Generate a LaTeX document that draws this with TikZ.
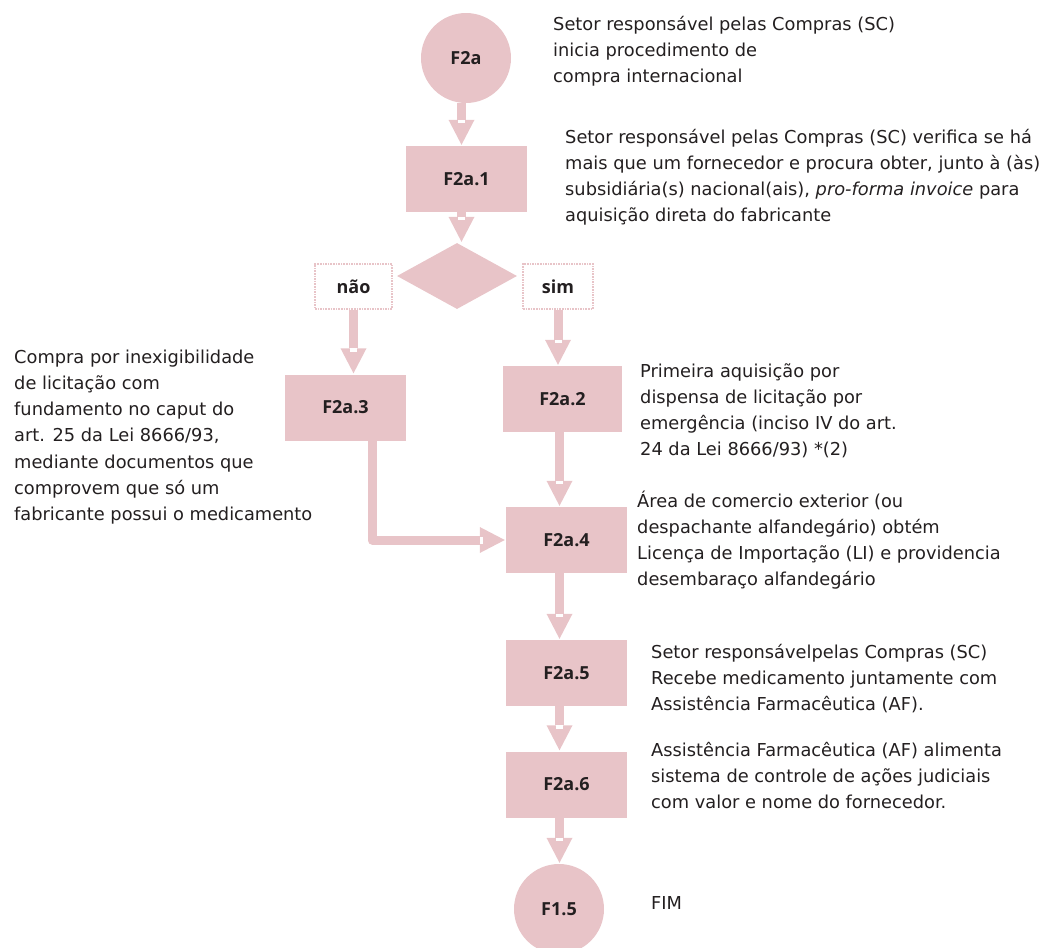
\documentclass[tikz,border=0pt]{standalone}
\usepackage{fontspec}
\setmainfont{DejaVu Sans}
\newfontfamily\labelfont{Open Sans}
\usetikzlibrary{arrows.meta,calc,positioning,shapes.geometric}

\definecolor{rose}{RGB}{232,196,200}
\definecolor{ink}{RGB}{35,31,32}
\newcommand\notesize{\fontsize{17.8}{26.3}\selectfont}
\newcommand\labelsize{\labelfont\fontsize{18}{20}\selectfont\bfseries}

\tikzstyle{stage}=[
  rectangle,
  fill=rose,
  inner sep=0pt,
  minimum width=121pt,
  minimum height=66pt,
  font=\labelsize,
  text=ink,
]
\tikzstyle{terminal}=[
  circle,
  fill=rose,
  inner sep=0pt,
  minimum size=90pt,
  font=\labelsize,
  text=ink,
]
\tikzstyle{decision}=[
  diamond,
  fill=rose,
  inner sep=0pt,
  minimum width=120pt,
  minimum height=66pt,
]
\tikzstyle{answer}=[
  rectangle,
  draw=rose,
  line width=2pt,
  dash pattern=on 1.6pt off 1pt,
  fill=white,
  minimum height=45pt,
  font=\labelsize,
  text=ink,
]
% notes are placed by the baseline of their last line
\tikzstyle{note}=[
  anchor=base west,
  align=left,
  inner sep=0pt,
  font=\notesize,
  text=ink,
]
\tikzstyle{flow}=[
  draw=rose,
  line width=9pt,
  -{Triangle[width=26pt,length=25pt,line width=0pt]},
  shorten >=1pt,
]
% white gap where the shaft meets the head
\newcommand\notch[1]{\fill[white] ($(#1)+(-3.5,-26)$) rectangle ($(#1)+(3.5,-22.5)$);}

\begin{document}
\begin{tikzpicture}[x=1pt,y=-1pt]
  \useasboundingbox (0,0) rectangle (1050,948);
  %% columns of the connectors
  \coordinate (colT) at (461.5,0);
  \coordinate (colA) at (372,0);
  \coordinate (colB) at (559.5,0);
  %% steps
  \node (F2a) [terminal] at (466,58) {F2a};
  \node (F2a1) [stage] at (466.5,179) {F2a.1};
  \node (dec) [decision] at (457,276) {};
  \node (nao) [answer, minimum width=77pt] at (353.5,286.5) {não};
  \node (sim) [answer, minimum width=70pt] at (558,286.5) {sim};
  \node (F2a3) [stage] at (345.5,407.5) {F2a.3};
  \node (F2a2) [stage, minimum width=119pt] at (562.5,399) {F2a.2};
  \node (F2a4) [stage] at (566.5,540) {F2a.4};
  \node (F2a5) [stage] at (566.5,673) {F2a.5};
  \node (F2a6) [stage] at (566.5,784.5) {F2a.6};
  \node (F15) [terminal] at (559,909) {F1.5};
  %% texts
  \node (tF2a) [note] at (553,82.6) {Setor responsável pelas Compras (SC)\\
    inicia procedimento de\\compra internacional};
  \node (tF2a1) [note] at (565,221.9) {Setor responsável pelas Compras (SC) verifica se há\\
    mais que um fornecedor e procura obter, junto à (às)\\
    subsidiária(s) nacional(ais), \textit{pro-forma invoice} para\\
    aquisição direta do fabricante};
  \node (tF2a3) [note] at (14,520.8) {Compra por inexigibilidade\\de licitação com\\
    fundamento no caput do\\art. 25 da Lei 8666/93,\\mediante documentos que\\
    comprovem que só um\\fabricante possui o medicamento};
  \node (tF2a2) [note] at (640,455.9) {Primeira aquisição por\\dispensa de licitação por\\
    emergência (inciso IV do art.\\24 da Lei 8666/93) *(2)};
  \node (tF2a4) [note] at (637,585.9) {Área de comercio exterior (ou\\
    despachante alfandegário) obtém\\Licença de Importação (LI) e providencia\\
    desembaraço alfandegário};
  \node (tF2a5) [note] at (651,710.6) {Setor responsávelpelas Compras (SC)\\
    Recebe medicamento juntamente com\\Assistência Farmacêutica (AF).};
  \node (tF2a6) [note] at (651,808.6) {Assistência Farmacêutica (AF) alimenta\\
    sistema de controle de ações judiciais\\com valor e nome do fornecedor.};
  \node (tF15) [note] at (651,909) {FIM};
  %% connectors
  \draw [flow] (F2a.south -| colT) -- (F2a1.north -| colT);
  \notch{F2a1.north -| colT}
  \draw [flow] (F2a1.south -| colT) -- (dec.north -| colT);
  \notch{dec.north -| colT}
  \draw [flow] (nao.south) -- (F2a3.north -| nao.south);
  \notch{F2a3.north -| nao.south}
  \draw [flow] (sim.south) -- (F2a2.north -| sim.south);
  \notch{F2a2.north -| sim.south}
  \draw [flow] (F2a2.south -| colB) -- (F2a4.north -| colB);
  \notch{F2a4.north -| colB}
  \draw [flow, line join=round] (F2a3.south -| colA) |- (F2a4.west);
  \fill [white] ($(F2a4.west)+(-26,-3.5)$) rectangle ($(F2a4.west)+(-22.5,3.5)$);
  \draw [flow] (F2a4.south -| colB) -- (F2a5.north -| colB);
  \notch{F2a5.north -| colB}
  \draw [flow] (F2a5.south -| colB) -- (F2a6.north -| colB);
  \notch{F2a6.north -| colB}
  \draw [flow] (F2a6.south -| colB) -- (F15.north -| colB);
  \notch{F15.north -| colB}
\end{tikzpicture}
\end{document}
